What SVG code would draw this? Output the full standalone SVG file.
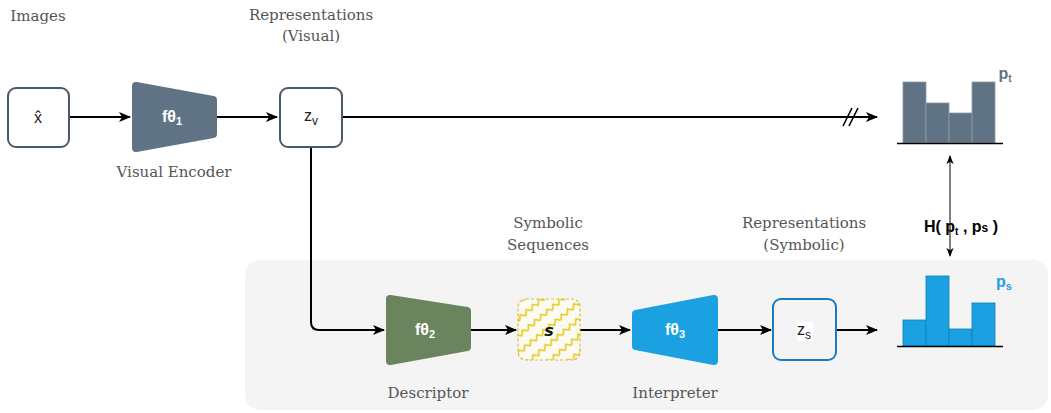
<svg xmlns="http://www.w3.org/2000/svg" width="1051" height="413" viewBox="0 0 1051 413">
<style>
.cap{font-family:"DejaVu Serif",serif;font-size:15px;fill:#555;text-anchor:middle}
.lab{font-family:"Liberation Sans",Arial,sans-serif;font-size:16px;text-anchor:middle}
.b{font-weight:bold}
.conn{fill:none;stroke:#000;stroke-width:2}
.box{stroke-width:2}
</style>
<defs>
<marker id="arr" viewBox="0 0 12 10" refX="11" refY="5" markerWidth="12" markerHeight="10" markerUnits="userSpaceOnUse" orient="auto">
<path d="M0,0 L12,5 L0,10 L3,5 Z" fill="#000"/>
</marker>
<marker id="arrs" viewBox="0 0 10 10" refX="9" refY="5" markerWidth="9" markerHeight="9" markerUnits="userSpaceOnUse" orient="auto-start-reverse">
<path d="M0,1 L10,5 L0,9 L2.5,5 Z" fill="#000"/>
</marker>
<pattern id="zig" patternUnits="userSpaceOnUse" width="8" height="13" patternTransform="rotate(-40)">
<path d="M0,8 L4,3.5 L8,8" fill="none" stroke="#e8c81a" stroke-width="1.5"/>
</pattern>
</defs>
<rect x="245" y="260" width="803" height="150" rx="15" fill="#f4f4f4"/>
<g id="captions">
<text class="cap" x="38" y="21">Images</text>
<text class="cap" x="311" y="20">Representations</text>
<text class="cap" x="311" y="41">(Visual)</text>
<text class="cap" x="174" y="177">Visual Encoder</text>
<text class="cap" x="548" y="228">Symbolic</text>
<text class="cap" x="548" y="250">Sequences</text>
<text class="cap" x="804" y="228">Representations</text>
<text class="cap" x="804" y="250">(Symbolic)</text>
<text class="cap" x="428" y="398">Descriptor</text>
<text class="cap" x="675" y="398">Interpreter</text>
</g>
<g id="connectors">
<path class="conn" d="M69,117 H130" marker-end="url(#arr)"/>
<path class="conn" d="M217,117 H277" marker-end="url(#arr)"/>
<path class="conn" d="M342,117 H877" marker-end="url(#arr)"/>
<path d="M843,126 L852,108 M849,126 L858,108" stroke="#000" stroke-width="1.6" fill="none"/>
<path class="conn" d="M311,147 V322 Q311,330 319,330 H384" marker-end="url(#arr)"/>
<path class="conn" d="M471,330 H516" marker-end="url(#arr)"/>
<path class="conn" d="M580,330 H630" marker-end="url(#arr)"/>
<path class="conn" d="M718,330 H771" marker-end="url(#arr)"/>
<path class="conn" d="M836,330 H877" marker-end="url(#arr)"/>
<path d="M950,156 V256" stroke="#000" stroke-width="1" fill="none" marker-start="url(#arrs)" marker-end="url(#arrs)"/>
</g>
<g id="node-x">
<rect class="box" x="8" y="88" width="61" height="59" rx="8" fill="#fff" stroke="#4a5a6a"/>
<text class="lab" x="38" y="123" fill="#222" style="font-weight:500">x̂</text>
</g>
<g id="node-encoder">
<polygon points="136,86 213,100 213,134 136,148" fill="#5f7385" stroke="#5f7385" stroke-width="8" stroke-linejoin="round"/>
<text class="lab b" x="172" y="122" fill="#fff" font-size="15">fθ<tspan font-size="11" dy="3">1</tspan></text>
</g>
<g id="node-zv">
<rect class="box" x="280" y="88" width="62" height="59" rx="8" fill="#fff" stroke="#4a5a6a"/>
<text class="lab" x="311" y="121" fill="#222">z<tspan font-size="12" dy="4">v</tspan></text>
</g>
<g id="node-pt">
<rect x="903" y="82" width="23" height="61" fill="#5f7385" stroke="#8c9aa8" stroke-width="0.8"/>
<rect x="926" y="103" width="23" height="40" fill="#5f7385" stroke="#8c9aa8" stroke-width="0.8"/>
<rect x="949" y="113" width="23" height="30" fill="#5f7385" stroke="#8c9aa8" stroke-width="0.8"/>
<rect x="972" y="82" width="23" height="61" fill="#5f7385" stroke="#8c9aa8" stroke-width="0.8"/>
<path d="M897,143.5 H1003" stroke="#000" stroke-width="1.5"/>
<text class="lab b" x="1005" y="79" fill="#5f7385" text-anchor="start" font-size="15">p<tspan font-size="10" dy="3">t</tspan></text>
</g>
<g id="node-H">
<text class="lab b" x="961" y="232" fill="#000" text-anchor="start" font-size="15">H( p<tspan font-size="10" dy="3">t</tspan><tspan dy="-3"> , p</tspan><tspan font-size="12">s</tspan> )</text>
</g>
<g id="node-descriptor">
<polygon points="390,299 467,311 467,347 390,361" fill="#6a845e" stroke="#6a845e" stroke-width="8" stroke-linejoin="round"/>
<text class="lab b" x="425" y="335" fill="#fff" font-size="15">fθ<tspan font-size="11" dy="3">2</tspan></text>
</g>
<g id="node-s">
<rect x="518" y="299" width="62" height="61" rx="8" fill="#fbfbf4"/>
<rect x="518" y="299" width="62" height="61" rx="8" fill="url(#zig)" stroke="#d9bd3a" stroke-width="1.2" stroke-dasharray="3 2"/>
<text x="549" y="336" font-family="DejaVu Sans, sans-serif" font-size="16" font-weight="bold" font-style="italic" text-anchor="middle" fill="#111">s</text>
</g>
<g id="node-interpreter">
<polygon points="636,314 714,299 714,361 636,346" fill="#1ba1e2" stroke="#1ba1e2" stroke-width="8" stroke-linejoin="round"/>
<text class="lab b" x="675" y="335" fill="#fff" font-size="15">fθ<tspan font-size="11" dy="3">3</tspan></text>
</g>
<g id="node-zs">
<rect class="box" x="773" y="299" width="63" height="61" rx="8" fill="none" stroke="#1a7cc0"/>
<rect x="797" y="322" width="16" height="19" fill="#fff"/>
<text class="lab" x="804" y="335" fill="#222">z<tspan font-size="12" dy="4">s</tspan></text>
</g>
<g id="node-ps">
<rect x="903" y="320" width="23" height="26" fill="#1ba1e2" stroke="#0f7fb8" stroke-width="0.8"/>
<rect x="926" y="276" width="23" height="70" fill="#1ba1e2" stroke="#0f7fb8" stroke-width="0.8"/>
<rect x="949" y="329" width="23" height="17" fill="#1ba1e2" stroke="#0f7fb8" stroke-width="0.8"/>
<rect x="972" y="303" width="23" height="43" fill="#1ba1e2" stroke="#0f7fb8" stroke-width="0.8"/>
<path d="M897,346.5 H1003" stroke="#000" stroke-width="1.5"/>
<text class="lab b" x="1004" y="287" fill="#1ba1e2" text-anchor="start" font-size="15">p<tspan font-size="11" dy="3">s</tspan></text>
</g>
</svg>
